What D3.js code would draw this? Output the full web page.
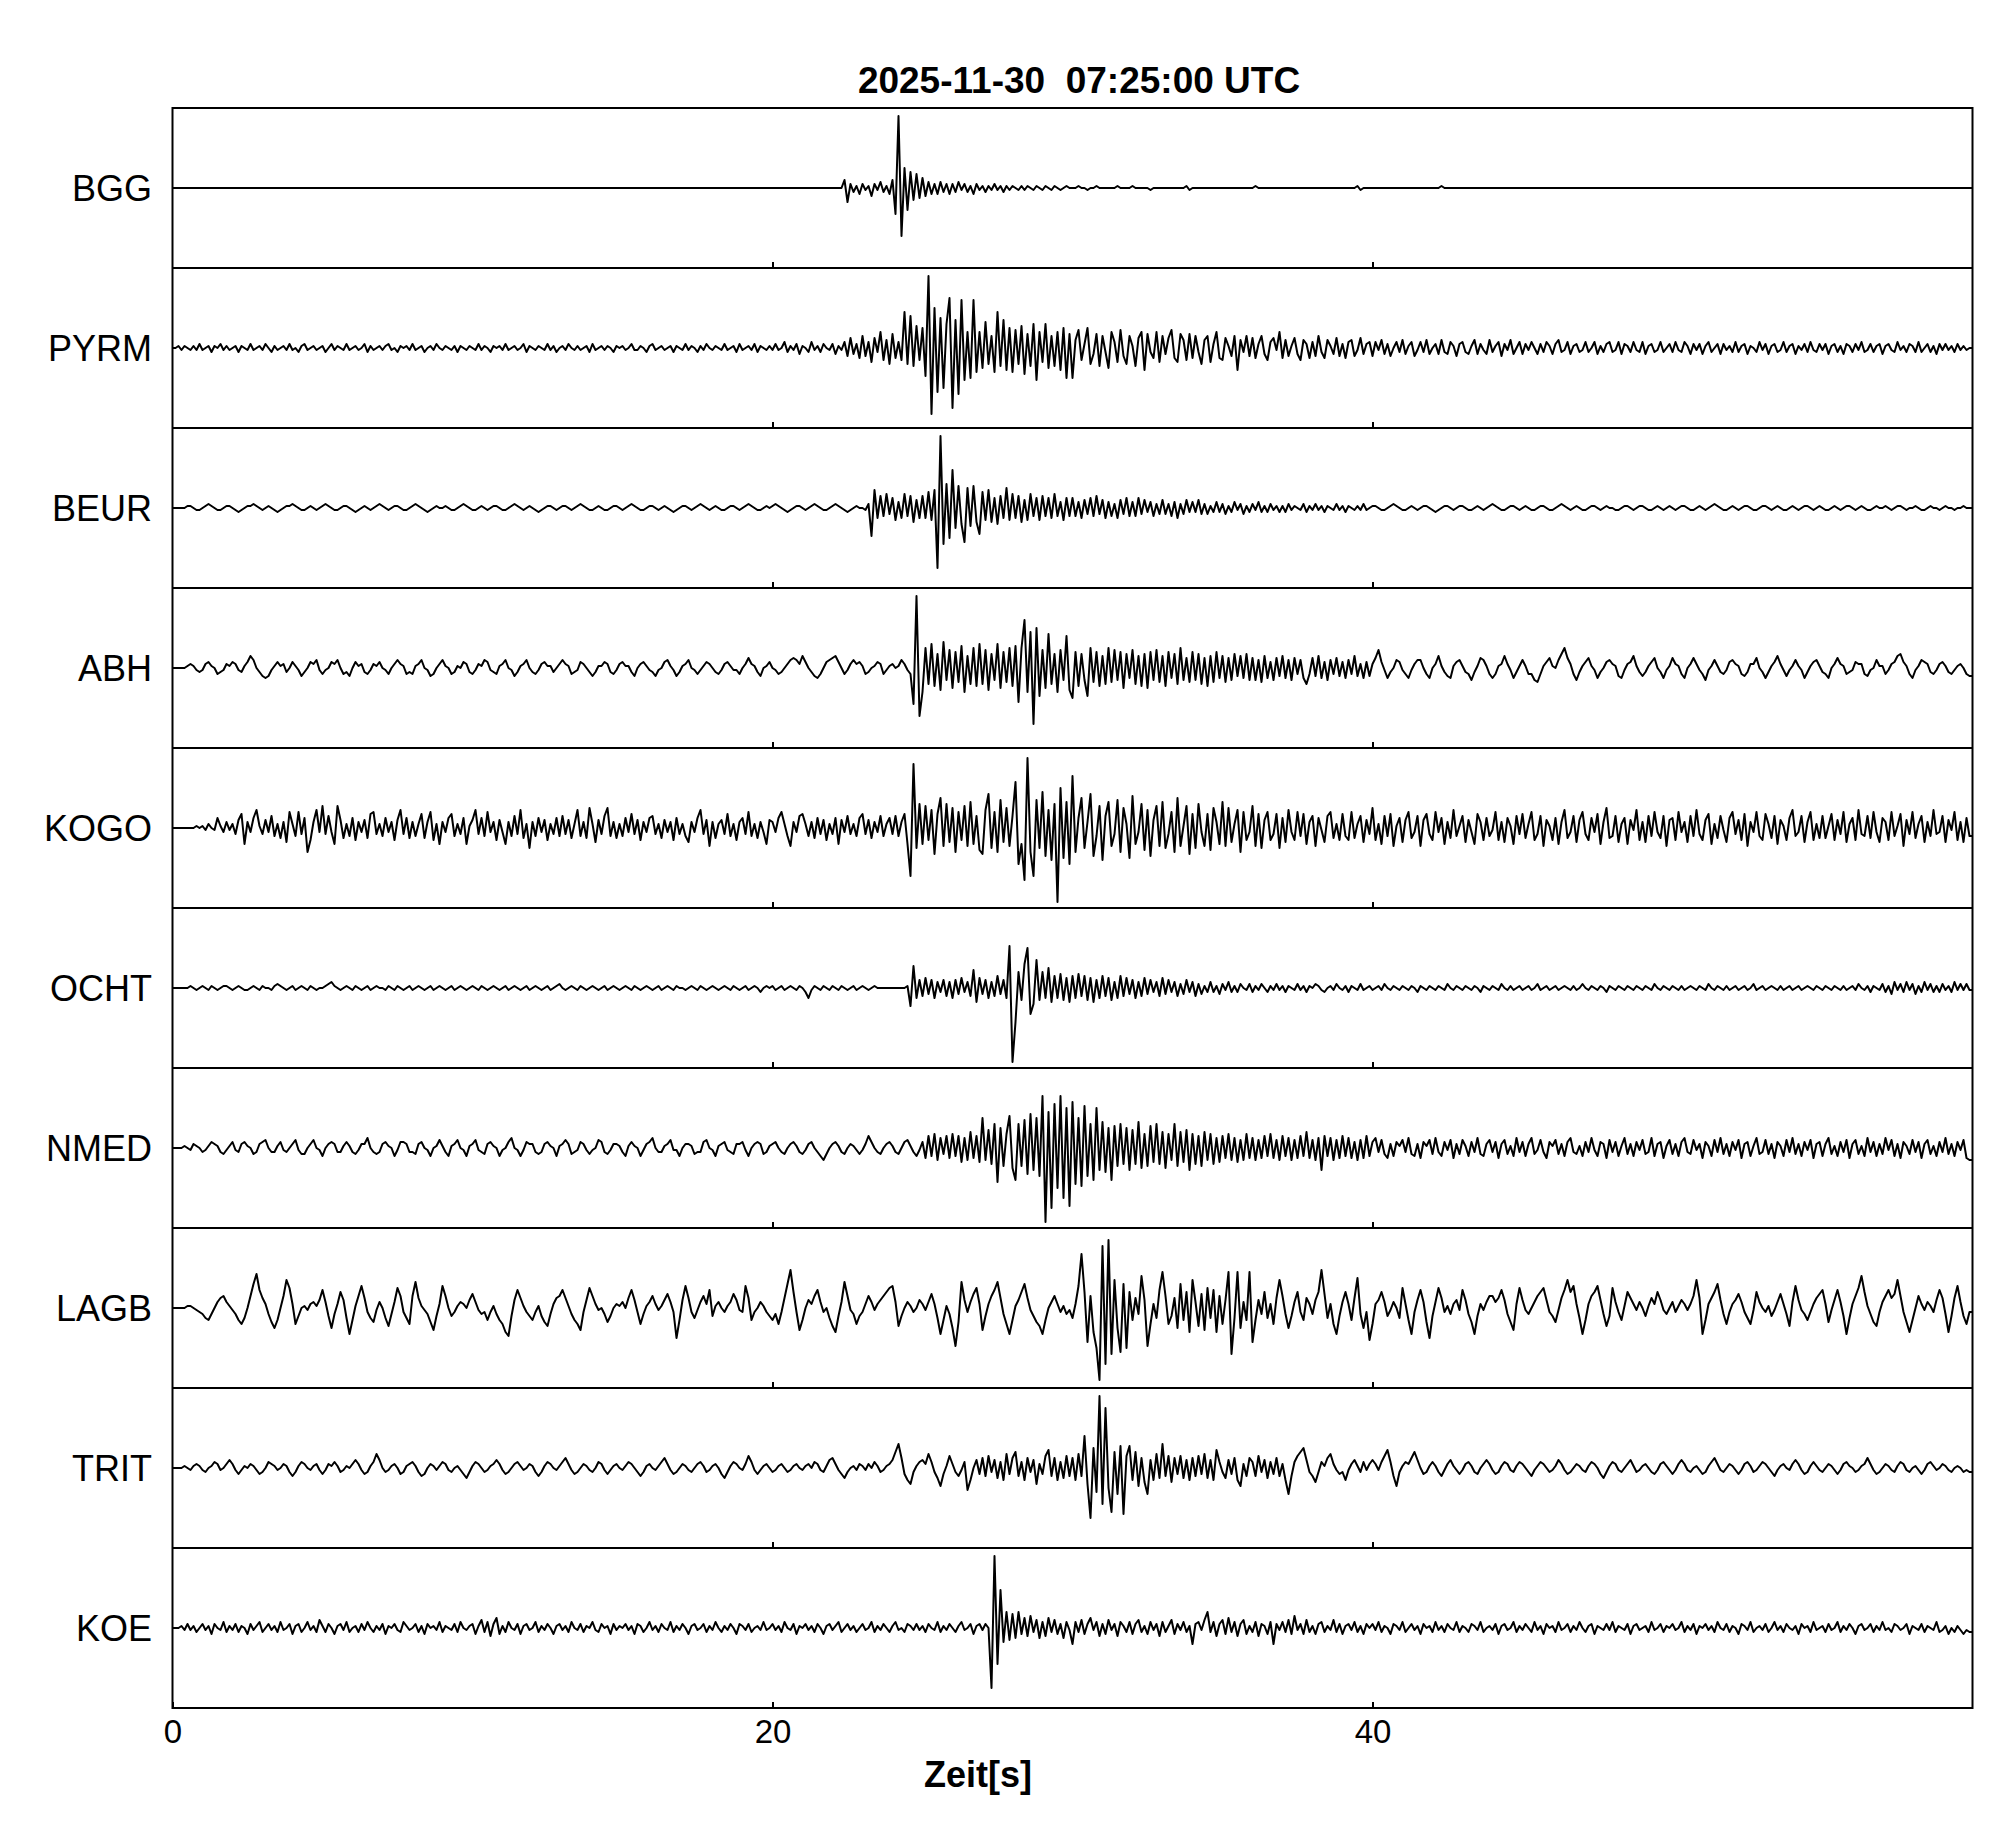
<!DOCTYPE html>
<html>
<head>
<meta charset="utf-8">
<script src="https://cdn.jsdelivr.net/npm/d3@7"></script>
<style>
body { margin: 0; background: #fff; }
text { font-family: "Liberation Sans", Arial, Helvetica, sans-serif; fill: #000; }
</style>
</head>
<body>
<svg id="chart" width="2005" height="1841"></svg>
<script>
// station names, top to bottom
const stations = ['BGG', 'PYRM', 'BEUR', 'ABH', 'KOGO', 'OCHT', 'NMED', 'LAGB', 'TRIT', 'KOE']
const xTicks = [0, 20, 40]
const title = '2025-11-30  07:25:00 UTC'
const xLabel = 'Zeit[s]'

// amplitudes, one row per 5 s block (samples every 0.1 s)
// a row holding a single 0 is a flat stretch
const BGG = [
  [0], [0], [0], [0],
  [0,0,0,0,0,0,0,0,0,0, 0,0,0,0,0,0,0,0,0,0, 0,0,0,0,4,-7,2,-2,1,-3, 2,-1,1,-4,2,-1,3,-2,1,-3, 4,-13,36,-24,10,-11,8,-6,7,-5],
  [5,-4,3,-3,2,-3,3,-2,2,-3, 2,-2,3,-1,2,-2,1,-3,2,-1, 1,-2,1,-1,2,-1,1,-2,1,-1, 1,0,-1,1,-1,1,0,-1,1,0, -1,1,0,-1,1,0,-1,0,1,0],
  [0,0,1,0,0,-1,0,0,1,0, 0,0,0,0,0,1,0,0,0,0, 1,0,0,0,0,0,-1,0,0,0, 0,0,0,0,0,0,0,0,1,-1, 0,0,0,0,0,0,0,0,0,0],
  [0,0,0,0,0,0,0,0,0,0, 0,1,0,0,0,0,0,0,0,0, 0,0,0,0,0,0,0,0,0,0, 0,0,0,0,0,0,0,0,0,0, 0,0,0,0,0,1,-1,0,0,0],
  [0,0,0,0,0,0,0,0,0,0, 0,0,0,0,0,0,0,0,0,0, 0,0,0,1,0,0,0,0,0,0, 0,0,0,0,0,0,0,0,0,0, 0,0,0,0,0,0,0,0,0,0],
  [0], [0], [0]
]

const PYRM = [
  [0,0,1,-1,1,0,-1,1,-1,2, -1,0,1,-2,1,0,2,-1,1,-1, 0,1,-2,1,0,-1,2,-1,0,1, -1,2,0,-2,1,-1,0,1,-1,2, -1,0,-2,1,2,-1,0,1,-1,0],
  [1,-2,0,2,-1,1,0,-1,2,-1, 0,1,-1,0,2,-2,1,-1,0,1, -1,1,2,-1,0,-2,1,0,1,-1, 2,-1,0,1,-2,0,1,-1,2,0, -1,1,0,-1,1,-2,1,0,-1,1],
  [0,-1,2,-1,1,0,-2,1,0,1, -1,2,-1,0,1,-1,0,2,-2,1, 0,-1,1,0,-1,2,-1,1,-2,0, 1,-1,2,0,-1,1,-1,0,1,-2, 2,-1,0,1,-1,1,0,-2,1,0],
  [1,-1,0,2,-1,-1,1,0,-2,1, 2,-1,0,1,-1,0,1,-2,1,0, -1,2,-1,1,0,-2,1,-1,2,0, -1,1,0,-1,2,-1,0,1,-2,2, -1,0,1,-1,2,-2,1,0,-1,1],
  [-1,2,-1,0,3,-2,1,-1,2,-3, 1,0,-2,3,-1,1,-2,2,0,-1, 2,-3,1,-1,3,-4,5,-3,2,-5, 6,-4,3,-7,5,-2,8,-6,4,-8, 7,-5,3,-6,18,-8,16,-9,11,-6],
  [10,-14,36,-33,20,-22,15,-20,12,25, -30,14,-23,24,-16,8,-15,24,-12,8, -10,13,-8,6,-12,18,-9,14,-11,10, -12,9,-8,11,-13,7,-9,12,-16,8, -7,12,-10,6,-9,8,-11,10,-15,7],
  [-15,4,9,-6,2,10,-8,-3,7,-9, 6,-2,-10,8,3,-7,9,-4,-8,6, 1,-9,5,8,-11,7,-2,-5,8,-7, 6,-3,5,9,-5,-7,7,4,-6,7, -5,6,-2,-8,4,6,-7,2,8,-5],
  [-6,5,1,-4,6,-11,4,-2,6,-4, 5,-5,2,6,-3,-6,3,5,-1,8, -5,4,-4,1,5,-3,-6,4,2,-5, 3,-4,6,-2,-5,4,1,-3,5,-4, 2,-5,3,4,-4,-1,5,-3,2,3],
  [-4,3,-1,4,-3,2,-4,0,3,-2, 4,-3,1,3,-4,-1,3,-2,4,-3, 0,2,-3,4,-2,-3,3,1,-4,2, 3,-2,-3,1,4,-3,2,-1,-3,4, -2,1,3,-4,2,-1,4,-3,0,3],
  [-3,2,-1,3,0,-3,2,-2,3,1, -3,2,4,-2,-1,3,-3,1,2,-2, -1,3,-2,0,3,-3,1,-2,2,3, -2,-1,3,-3,2,1,-2,3,-1,-2, 3,-3,1,2,-2,-1,3,-2,0,2],
  [-2,3,-1,-2,3,1,-3,2,-1,2, -3,1,3,-2,0,2,-3,2,-1,1, -2,3,-2,1,2,-3,1,0,-2,3, -1,2,-3,1,2,-2,-1,3,-2,1, 2,-3,1,-1,2,-2,3,-1,-2,2],
  [-1,2,-3,1,2,-2,1,-3,2,1, -2,2,-1,3,-2,-1,2,-2,1,2, -3,1,2,-1,-2,3,-1,1,-2,2, 1,-2,3,-2,0,2,-2,1,-3,2, -1,2,-1,1,-2,2,-1,1,-1,0]
]

const BEUR = [
  [0,0,0,0,0,1,1,0,-1,-1, 0,1,2,1,0,-1,-1,0,1,1, 0,-1,-2,-1,0,1,1,2,1,0, -1,0,1,0,-1,-2,-1,0,1,1, 2,1,0,-1,-1,0,1,0,-1,0],
  [1,2,1,0,-1,-1,0,1,1,0, -1,-2,-1,0,1,0,-1,0,1,2, 1,0,-1,0,1,1,0,-1,-1,0, 1,2,1,0,-1,-2,-1,0,1,0, 0,1,0,-1,-1,0,1,2,1,0],
  [-1,-1,0,1,0,-1,0,1,1,0, -1,-1,0,1,2,1,0,-1,0,1, 0,-1,-2,-1,0,1,1,0,-1,0, 1,1,0,-1,0,1,2,1,0,-1, -1,0,1,0,-1,-1,0,1,1,0],
  [-1,0,1,2,1,0,-1,-1,0,1, 1,0,-1,0,1,0,-1,-2,-1,0, 1,1,0,-1,0,1,2,1,0,-1, 0,1,0,-1,-1,0,1,1,0,-1, 0,1,2,1,0,-1,-1,0,1,0],
  [1,2,1,0,-1,-2,-1,0,1,1, 0,-1,0,1,2,1,0,-1,-1,0, 1,2,1,0,-1,-2,-1,0,1,0, 0,-1,2,-14,9,-5,6,-4,7,-3, 5,-6,3,-5,7,-4,6,-7,4,-5],
  [6,-5,8,-6,9,-30,36,-18,12,-15, 19,-10,11,-8,-17,10,-9,11,-7,-13, 8,-6,9,-7,5,-8,6,-5,10,-6, 7,-5,6,-7,4,-6,7,-4,5,-6, 6,-4,5,-5,7,-4,3,-6,5,-4],
  [5,-4,3,-5,4,-3,5,-4,6,-3, 4,-5,3,-4,2,-5,4,-3,5,-4, 3,-4,5,-3,4,-2,3,-4,2,-3, 4,-3,2,-4,3,-5,2,-3,4,-2, 3,-2,4,-3,2,-3,1,-2,3,-2],
  [2,-3,1,-2,3,-1,2,-3,1,-2, 2,-1,3,-2,1,-2,2,-1,1,-2, 1,-2,2,-1,1,0,-1,2,-2,1, -1,2,-1,1,-2,1,0,-1,2,-1, 1,-2,1,0,-1,1,-1,2,-1,0],
  [1,1,0,-1,-1,0,1,2,1,0, -1,-1,0,1,0,-1,0,1,1,0, -1,-2,-1,0,1,1,0,-1,0,1, 1,0,-1,-1,0,1,0,-1,0,1, 2,1,0,-1,-1,0,1,1,0,-1],
  [0,1,0,-1,-1,0,1,1,0,-1, -1,0,1,2,1,0,-1,0,1,0, -1,-1,0,1,1,0,-1,0,1,0, 0,-1,-1,0,1,1,0,-1,0,1, 1,0,-1,-1,0,1,0,-1,0,1],
  [0,-1,0,1,1,0,-1,-1,0,1, 0,-1,0,1,2,1,0,-1,-1,0, 1,0,-1,0,1,1,0,-1,-1,0, 1,1,0,-1,0,1,0,-1,-1,0, 1,0,-1,0,1,1,0,-1,0,1],
  [0,-1,-1,0,1,0,-1,0,1,1, 0,-1,0,1,0,-1,-1,0,1,0, 0,1,0,-1,0,1,1,0,-1,0, 0,1,0,-1,-1,0,1,0,0,-1, 0,1,0,0,-1,0,0,1,0,0]
]

const ABH = [
  [0,0,0,0,0,1,2,1,-1,-2, -1,2,3,1,0,-3,-2,-1,2,1, 3,2,-1,-2,1,3,6,4,0,-2, -4,-5,-4,-1,1,3,1,2,-2,0, 3,1,-1,-4,-2,0,3,2,4,-1],
  [-3,-1,0,3,2,4,0,-3,-2,-4, 0,3,1,2,-2,-3,-1,2,1,3, 0,-1,-3,0,2,4,2,1,-3,-2, -3,1,2,4,0,-1,-4,-3,0,2, 4,1,0,-3,-2,1,0,3,2,-2],
  [-3,-1,2,1,4,3,-1,-2,-3,1, 2,4,0,-1,-4,-2,1,2,4,0, -2,-3,-1,2,3,1,1,-2,0,2, 4,2,1,-3,-2,-1,3,2,0,-2, -4,-2,1,1,3,2,-2,-3,-1,2],
  [3,1,1,-2,-4,0,2,3,1,-1, -2,-4,-1,0,3,4,1,-1,-4,-2, 1,2,4,0,-1,-3,-1,1,3,2, 0,-2,-3,-1,2,3,1,-1,-1,-3, 0,2,5,2,1,-2,-4,0,1,3],
  [0,-1,-3,-2,0,2,4,5,4,2, 6,3,0,-2,-4,-5,-3,0,3,4, 5,6,3,0,-3,-1,2,4,2,3, 1,-3,-2,0,1,3,2,-3,-1,1, 2,0,1,4,2,-1,-3,-18,36,-24],
  [-12,10,-8,12,-9,7,-11,13,-6,9, -10,8,-7,11,-12,6,-8,10,-9,12, -8,9,-11,7,-6,12,-10,8,-7,10, -9,11,-17,10,24,-12,18,-28,20,-14, 9,-10,17,-8,7,-12,9,-6,16,-11],
  [-15,8,-9,7,-6,-14,10,-7,8,-9, 6,-8,10,-7,9,-6,8,-10,7,-5, 9,-8,6,-9,7,-10,8,-6,9,-7, 6,-9,8,-5,7,-8,10,-6,5,-7, 8,-6,7,-8,5,-9,6,-7,8,-5],
  [6,-7,5,-6,7,-4,6,-5,7,-6, 5,-6,4,-7,6,-5,3,-6,5,-4, 6,-5,4,-6,5,-3,4,-5,-8,-3, 5,-4,6,-5,3,-6,4,-3,5,-4, 3,-5,4,-3,6,-4,2,-5,3,-4],
  [2,5,9,3,-1,-5,-2,0,4,3, -1,-3,-5,-1,2,4,4,0,-3,-5, 0,2,6,1,-2,-4,-5,1,3,4, 1,-2,-3,-6,-2,1,5,4,1,-3, -5,-3,1,2,6,2,-1,-5,-2,1],
  [4,1,-3,-3,-6,-7,-3,1,3,5, 1,0,4,7,10,5,2,-3,-6,-2, 1,3,5,1,-1,-5,-2,0,3,4, 2,1,-4,-5,-1,2,3,6,1,-2, -4,-2,1,3,5,0,-2,-5,-1,1],
  [5,2,1,-3,-5,0,2,5,2,-1, -3,-6,-1,1,4,1,-2,-3,-1,3, 4,2,1,-3,-4,-2,2,2,5,0, -2,-5,-2,1,3,6,2,-1,-4,-1, 1,4,1,-1,-5,-2,1,3,4,1],
  [-2,-3,-5,0,2,5,2,1,-3,-2, -1,3,2,2,-3,-4,-1,0,4,1, 1,-3,-1,2,3,6,7,3,1,-3, -5,-1,1,4,3,2,-2,-3,-1,2, 3,1,-2,-3,-1,1,2,0,-3,-4]
]

const KOGO = [
  [0,0,0,0,0,0,0,0,1,0, 1,-1,2,0,-1,5,1,-2,3,-1, 2,-3,4,7,-8,3,-2,5,9,1, -3,4,-2,6,-4,2,-5,3,-7,8, 2,-4,8,-3,5,-12,-6,3,9,-2],
  [11,-3,6,-2,-8,11,4,-5,2,-4, 5,-6,3,-2,4,-5,7,8,-3,2, -4,5,-2,3,-6,4,9,-3,5,-5, 3,-4,2,7,-5,3,8,-6,2,-8, 3,-2,5,7,-4,2,-3,5,-8,1],
  [4,9,-3,5,-4,8,-2,3,-6,4, -2,-8,3,-4,6,-3,9,-5,2,-10, 3,-4,5,-2,4,-6,2,-3,5,-4, 6,-3,4,-5,2,9,-4,3,-5,10, 2,-7,4,-3,6,10,-4,3,-5,2],
  [-4,5,-2,7,-3,4,-6,3,-2,5, 6,-3,2,-5,4,-2,3,-6,5,-3, 2,-4,-7,3,-2,5,9,-3,4,-9, 3,-5,2,4,-3,7,-4,2,-6,3, 5,-3,8,-4,2,-5,3,-2,-8,4],
  [3,-2,5,8,2,-4,-9,3,-2,6, 7,2,-4,3,-5,5,-3,4,-6,2, -3,5,-8,4,-2,6,-3,2,-4,5, 7,-3,4,-5,3,-2,6,-4,2,5, -3,6,-4,3,7,-8,-24,32,-10,12],
  [-8,11,-6,9,-13,7,15,-9,12,-7, 10,-12,8,-6,11,-9,13,-8,6,-11, -13,9,17,-10,8,-12,14,-7,10,-9, 6,23,-18,-8,-26,35,-12,-24,14,-10, 18,-14,9,-16,12,-37,20,-15,13,-18],
  [26,-12,5,15,-10,3,17,-14,-4,11, -16,6,13,-9,-3,14,-12,10,2,-15, 16,-8,-2,12,-11,9,-14,4,11,-9, 13,-10,-3,8,-12,15,-9,1,11,-13, 7,-10,12,-2,-9,7,-11,10,3,-8],
  [13,-9,10,-7,2,9,-12,8,-6,-2, 11,-9,7,-10,4,8,-6,-3,7,-10, 5,-7,9,-2,-6,8,-4,7,-8,3, 6,-9,5,-1,-7,6,8,-5,2,-6, 7,-4,-6,8,-5,2,6,-7,4,-3],
  [10,-6,2,-8,6,-4,7,-9,1,5, -7,4,8,-5,-2,6,-9,4,7,-3, -6,8,-2,5,-8,3,-5,9,-4,1, 6,-7,4,-2,-8,7,3,-6,5,-4, -1,8,-6,3,-7,5,1,-8,6,-3],
  [7,-5,2,8,-6,-3,6,-9,4,1, -6,5,-8,3,9,-5,-2,6,-7,4, 8,-3,-6,5,-2,7,-8,3,10,-5, -4,6,-7,2,5,-8,4,-1,9,-6, 3,-7,6,-4,8,-2,-5,6,-9,4],
  [5,-6,8,-2,3,-7,6,-4,9,-3, -6,4,7,-8,2,-5,6,-1,-7,5, 8,-3,4,-6,7,-9,3,-2,8,-4, -6,7,2,-5,6,-8,4,1,-6,5, 9,-4,-2,6,-7,3,8,-6,2,-5],
  [6,-5,1,7,-6,4,-3,8,-7,2, 5,-6,9,-3,-4,6,-5,8,-2,-7, 5,3,-6,8,-4,1,7,-9,4,-3, 8,-5,2,6,-7,3,-4,9,-3,-2, 6,-7,4,-1,8,-6,3,-7,5,-4]
]

const OCHT = [
  [0,0,0,0,0,0,1,0,-1,0, 1,0,-1,1,0,-1,0,1,1,0, -1,0,1,0,-1,-1,0,1,0,-1, 1,0,0,-1,1,2,1,0,-1,0, 1,-1,0,1,0,-1,1,0,-1,0],
  [0,1,2,3,1,0,-1,0,1,0, -1,1,0,-1,0,1,-1,0,1,0, 0,-1,1,0,-1,1,0,-1,0,1, -1,0,1,0,-1,0,1,-1,0,1, 0,-1,0,1,-1,0,1,0,-1,0],
  [1,0,-1,1,0,-1,0,1,0,-1, 0,1,-1,0,1,0,-1,0,1,-1, 0,1,0,-1,0,1,-1,0,1,2, 0,-1,0,1,0,-1,1,0,-1,0, 1,0,-1,0,1,-1,0,1,0,-1],
  [0,1,0,-1,1,0,-1,0,1,0, -1,0,1,-1,0,1,0,-1,1,0, 0,-1,0,1,0,-1,1,0,-1,0, 1,0,-1,0,1,0,-1,1,0,-1, 0,1,-1,0,1,0,-2,0,1,0],
  [1,-1,0,1,-1,0,1,0,-1,1, 0,-2,-5,-1,1,0,-1,1,0,-1, 1,0,-1,1,0,-1,0,1,-1,0, 1,0,-1,0,1,0,0,0,0,0, 0,0,0,0,0,1,-9,11,-5,4],
  [-4,5,-3,4,-5,3,-2,4,-4,3, -5,4,-3,5,-2,3,-4,9,-7,5, -3,4,-5,3,-4,6,-3,4,-5,21, -37,-17,8,-6,12,20,-13,-8,14,-6, 8,-5,10,-7,6,-5,7,-6,5,-7],
  [6,-5,7,-4,6,-6,5,-7,4,-5, 6,-4,5,-6,3,-5,6,-4,5,-3, 4,-5,3,-4,5,-3,4,-2,3,-4, 5,-3,4,-2,3,-4,2,-3,4,-2, 3,-4,2,-3,1,-2,3,-2,1,-3],
  [2,-1,3,-2,1,-2,2,0,-1,2, -2,1,-1,2,0,-2,1,-1,2,-1, 1,-2,1,0,-1,2,-1,1,-2,1, 0,2,1,-1,-2,0,1,-1,2,0, -1,1,-2,1,0,-1,2,-1,0,1],
  [-1,0,1,-1,2,0,-1,1,0,-1, 1,0,-1,1,0,-2,1,0,-1,1, 0,-1,1,0,-1,2,0,-1,1,0, -1,1,0,-1,1,0,-2,1,0,-1, 1,0,-1,2,0,-1,1,-1,0,1],
  [-1,0,1,-1,0,2,-1,0,1,-1, 0,1,-1,0,1,0,-1,1,-1,0, 2,0,-1,1,0,-1,1,0,-2,1, 0,-1,1,0,-1,1,0,-1,1,0, -1,1,0,-1,2,0,-1,1,0,-1],
  [1,0,-1,1,-1,0,1,0,-1,1, 0,-1,2,0,-1,1,0,-1,1,-1, 0,1,-1,0,1,-1,0,2,-1,0, 1,-1,0,1,0,-1,1,-1,0,1, -1,0,1,-1,0,1,0,-1,1,0],
  [-1,1,0,-1,1,0,-1,1,-1,0, 1,-1,2,0,-1,1,-2,1,0,-1, 2,-2,1,-3,3,-1,2,-2,3,-1, 2,-3,1,-2,3,-1,2,-2,1,-2, 2,-1,1,-2,3,-1,2,-1,2,-1]
]

const NMED = [
  [0,0,0,0,1,0,-1,2,1,0, -2,-1,1,3,2,1,-2,-3,-1,1, 3,-1,-2,2,3,1,0,-3,-2,2, 3,4,0,-2,-2,1,3,-1,-2,0, 2,4,-1,-3,-3,0,2,4,0,-1],
  [-4,0,2,3,2,-2,-2,1,3,1, -2,-3,-1,2,2,5,0,-2,-3,-2, 2,3,1,0,-4,-1,3,3,2,-2, -2,-3,2,3,0,-1,-4,0,1,4, 1,-2,-4,1,2,4,0,-1,-4,1],
  [2,4,-1,-2,-3,2,3,1,0,-4, -1,0,3,5,0,-1,-4,-1,3,2, 2,-2,-3,-2,2,3,1,0,-4,1, 2,4,2,-3,-2,-1,3,2,-1,-3, -1,0,4,3,-2,-3,-1,2,2,1],
  [-2,-4,1,3,1,0,-4,-1,2,3, 5,0,-2,-2,1,2,4,-1,-1,-4, 0,2,2,1,-3,-2,-2,3,4,0, -1,-4,1,2,3,-1,-2,-3,2,2, 3,-1,-4,0,2,3,2,-3,-2,1],
  [2,3,0,-2,-3,0,2,3,1,-2, -3,-1,2,3,0,-2,-4,-6,-3,0, 2,3,1,-2,-3,0,2,1,-1,-3, -1,2,6,3,0,-2,-3,0,2,3, 1,-2,-3,0,3,4,1,-2,-4,-1],
  [3,-5,6,-4,7,-6,5,-3,6,-5, 7,-4,6,-7,5,-6,8,-5,6,-7, 15,-6,9,-8,12,-17,10,-9,7,16, -10,-16,12,-9,14,-13,17,-11,15,-14, 26,-37,18,-30,22,-20,26,-25,20,-29],
  [23,-18,15,-19,21,-14,12,-16,20,-11, 13,-12,10,-16,11,-9,12,-8,10,-11, 9,-8,13,-10,7,-9,11,-7,12,-8, 8,-10,7,-6,12,-9,8,-7,9,-11, 7,-8,6,-9,8,-6,7,-8,5,-7],
  [6,-5,7,-6,5,-7,4,-6,7,-5, 5,-6,4,-5,6,-4,7,-5,4,-6, 6,-4,5,-6,4,-5,6,-4,8,-5, 4,-6,5,-11,6,-4,5,-6,4,-5, 6,-4,5,-5,3,-6,4,-5,6,-4],
  [3,5,-2,4,-3,-5,2,-4,3,1, 4,-2,5,-3,-4,2,-5,3,1,4, -3,5,-2,-4,3,-1,4,-5,2,-3, 4,1,-4,3,-2,5,-3,-4,2,4, -2,3,-5,2,4,-3,1,-4,5,-2],
  [3,-4,2,5,-3,-1,4,-2,-5,3, 1,4,-3,2,-4,3,5,-2,-3,1, -4,3,-2,5,-1,-4,3,2,-5,4, -2,3,-4,1,5,-3,2,-4,3,-1, 4,-3,-2,5,-4,2,3,-5,1,4],
  [-3,2,-4,3,5,-2,-3,4,-1,2, -5,3,1,-4,4,-2,5,-3,2,-4, 3,-1,4,-5,2,3,-4,1,5,-3, -2,4,-3,2,-5,3,1,-4,4,-2, 5,-3,2,-4,3,-1,4,-5,2,3],
  [-4,2,5,-3,1,-4,3,-2,4,-5, 2,4,-3,1,-4,5,-2,3,-4,2, -3,5,-1,4,-4,2,-5,3,1,-3, 4,-2,3,-5,2,4,-3,1,-4,3, -2,5,-3,2,-4,3,-1,4,-5,-6]
]

const LAGB = [
  [0,0,0,0,0,1,1,0,-1,-2, -3,-5,-6,-3,0,3,5,6,3,1, -1,-3,-6,-8,-5,0,6,12,17,9, 5,2,-3,-7,-10,-6,0,6,14,10, 2,-8,-4,0,1,-1,2,3,1,4],
  [9,3,-4,-10,-3,2,8,4,-5,-13, -6,1,6,11,5,-2,-5,-7,-1,3, 0,-5,-9,-3,3,10,6,-2,-5,-8, 6,13,5,1,-1,-3,-7,-11,-4,2, 11,6,0,-4,-2,1,3,2,0,4],
  [7,3,-1,-3,-2,-6,-2,1,-3,-6, -8,-12,-14,-4,4,9,5,1,-2,-4, -6,-2,1,-4,-7,-9,-3,2,5,6, 9,5,1,-3,-6,-8,-11,-2,4,10, 6,2,-1,0,-3,-7,-4,0,2,1],
  [3,0,5,9,4,-2,-8,-3,1,3, 6,2,-1,1,4,7,3,-2,-15,-6, 4,11,5,-2,-5,-1,3,6,2,9, -4,1,3,0,-2,1,3,7,4,-1, -2,11,5,-6,-2,0,3,1,-2,-4],
  [-6,-3,-8,-2,5,12,19,8,-2,-11, -6,0,4,2,6,9,3,-2,0,-5, -9,-12,-4,3,13,6,-1,-3,-8,-4, -2,2,6,3,-1,2,4,6,8,10, 11,3,-9,-4,0,3,1,-2,0,4],
  [2,-1,3,7,2,-5,-13,-6,1,-3, -10,-19,-7,13,4,-2,3,7,10,2, -11,-4,2,6,9,13,5,-3,-8,-13, -6,1,4,8,12,5,-1,-4,-7,-9, -13,-6,0,3,6,2,-2,1,-3,-1],
  [-5,2,11,27,8,-17,6,-12,-20,-36, 31,-28,34,-23,14,-10,-22,12,-20,8, -6,5,-3,16,4,-19,-8,2,-5,9, 18,6,-8,-4,5,-10,12,-6,8,-12, 14,3,-9,7,-11,10,-5,9,-12,6],
  [-8,4,18,-23,-5,18,-10,3,-6,18, -17,-6,4,-3,8,-5,2,-8,5,14, 6,-3,-10,-4,3,8,-2,-6,5,2, -3,4,8,19,7,-5,2,-8,-13,-4, 3,8,2,-6,5,15,-3,-10,-2,-16],
  [-8,2,4,8,3,-4,-1,3,0,-5, 10,2,-6,-13,-2,4,9,3,-7,-15, -4,3,10,5,-2,1,-3,2,4,-1, 9,4,-3,-7,-13,-4,2,-1,3,6, 6,3,5,9,4,-3,-7,-11,2,10],
  [4,-1,-3,0,3,6,8,10,4,-2, -4,-7,-1,5,9,14,8,11,2,-5, -13,-6,2,6,8,11,4,-3,-9,-4, 10,3,-2,-6,1,8,5,2,-1,3, 0,-4,1,5,2,8,4,-1,-3,0],
  [3,-2,1,4,2,-1,2,6,14,5, -13,-6,2,5,8,12,4,-3,-8,-2, 2,4,7,3,-2,-5,-8,-1,8,3, 0,-2,1,-4,-1,3,7,2,-3,-9, 3,11,4,-1,-3,-6,-2,2,5,7],
  [9,2,-7,-1,4,9,3,-4,-13,-5, 2,6,10,16,8,1,-3,-7,-9,-2, 3,6,9,5,7,14,6,-2,-7,-12, -6,0,6,2,-1,3,1,-2,4,9, 5,-3,-12,-4,5,11,3,-4,-8,-2]
]

const TRIT = [
  [0,0,0,0,1,0,-1,1,2,1, -1,-2,0,1,3,2,-1,0,2,4, 2,-1,-3,-1,1,0,2,1,-1,-3, -2,0,3,2,1,-1,0,2,1,-2, -4,-2,1,3,2,0,-1,1,2,-1],
  [-3,-1,2,1,3,1,-2,-1,1,0, 2,4,2,-1,-3,-2,1,3,7,4, 0,-2,-1,1,2,0,-3,-2,1,2, 3,1,-2,-4,-3,0,2,1,-1,1, 3,2,-1,-2,0,1,-1,-3,-5,-2],
  [1,3,2,0,-2,-1,1,2,4,2, -1,-3,-2,0,2,3,1,-1,0,2, 1,-2,-4,-2,1,3,2,0,-1,1, 3,5,2,-1,-3,-2,0,2,1,-1, -2,0,3,2,-1,-3,-1,1,2,0],
  [-1,1,3,2,0,-2,-4,-2,1,2, 0,-1,1,3,5,2,-1,-3,-2,0, 2,1,-1,-2,0,2,3,1,-2,-1, 1,2,0,-3,-5,-2,1,3,2,0, -1,2,6,3,-1,-3,-1,1,2,0],
  [-2,-1,1,2,0,-2,-1,1,2,0, -1,1,2,0,3,2,-1,-2,1,4, 5,2,-1,-3,-5,-2,0,1,-1,2, 1,-1,2,0,3,1,-2,-1,1,2, 4,8,12,5,-3,-6,-8,-2,1,3],
  [4,2,7,3,-2,-5,-9,-3,1,6, 2,-2,-4,-1,3,-11,-6,0,4,-3, 5,-4,6,-2,4,-5,3,-6,7,-3, 5,8,-4,3,-6,5,-2,4,-8,2, -3,6,9,-4,5,-6,3,-5,6,-4],
  [5,-6,7,-4,16,-8,-25,10,-12,36, -18,30,-10,-22,8,-13,11,-23,6,11, -6,8,-9,5,-7,-13,4,-6,7,-5, 12,-4,6,-7,5,-3,6,-5,4,-6, 5,-4,6,-3,7,-5,4,-6,9,3],
  [-2,-5,4,-3,5,-6,-9,2,-4,5, 3,-4,6,-2,4,-5,3,-3,5,-4, 2,-6,-13,-4,3,6,8,10,4,-2, -4,-7,-2,3,1,5,7,2,-1,-3, -2,-6,-1,2,4,1,-2,3,-1,2],
  [4,2,-1,3,6,9,3,-4,-9,-2, 1,3,2,5,8,4,0,-3,-2,1, 3,1,-2,-4,-1,2,4,1,-1,-3, -1,2,3,1,-2,-3,0,2,4,2, -1,-3,-2,1,3,2,-1,-2,1,3],
  [2,0,-2,-4,-1,1,3,2,0,-2, -1,1,4,2,-1,-3,-2,0,2,1, -1,-2,1,3,2,0,-3,-5,-2,1, 3,2,-1,-2,0,2,4,1,-2,-1, 1,2,0,-2,-3,-1,2,3,1,-1],
  [-3,-1,2,4,2,-1,-2,0,1,-1, -3,-2,1,3,5,2,-1,-2,0,2, 1,-1,-3,-1,2,3,1,-2,-1,1, 3,2,0,-2,-4,-1,1,2,0,-1, 2,4,2,-1,-3,-2,1,3,1,-1],
  [-2,0,2,1,-1,-3,-1,2,3,1, 0,-2,-1,1,2,5,2,-1,-3,-2, 0,2,1,-1,-2,1,3,2,-1,-2, 0,1,-1,-3,-1,2,3,1,-1,0, 2,1,-1,-2,0,1,0,-2,-1,-2]
]

const KOE = [
  [0,0,0,1,-1,2,-1,1,-2,0, 2,-1,1,-3,2,0,-1,3,-2,1, -1,2,-2,1,0,-3,2,-1,1,3, -2,0,2,-1,1,-2,3,-1,0,2, -3,1,2,-2,0,3,-1,1,-2,4],
  [1,-2,2,0,-3,1,2,-1,3,-2, 0,1,-2,2,-1,3,0,-2,1,-1, 2,-3,1,0,2,-1,-2,3,1,-1, 0,2,-2,1,-3,2,0,1,-1,3, -2,1,0,-1,2,-2,3,0,-1,1],
  [2,-3,1,4,-2,3,-4,2,5,-3, 1,-2,3,0,-1,2,-3,1,2,-1, 0,3,-2,1,-1,2,0,-3,1,2, -1,1,-2,3,0,-1,2,-2,1,0, 3,-1,-2,2,0,1,-3,2,-1,1],
  [0,2,-1,1,-3,2,1,-2,0,3, -1,1,-2,2,0,-1,3,-2,1,-1, 2,0,-3,1,2,-1,0,2,-2,1, -1,3,0,-2,1,-1,2,0,-3,2, 1,-1,2,-2,0,1,-1,3,-1,0],
  [2,-1,1,-2,3,0,-1,2,-3,1, 0,2,-1,1,-2,2,0,-3,1,2, -1,1,3,-2,0,2,-1,1,-2,0, 2,-1,0,3,-2,1,-1,2,0,-2, 1,3,-1,0,-2,2,1,-1,2,-1],
  [1,-2,2,0,-1,3,-2,1,-1,2, 0,-2,1,3,-1,0,2,-3,1,2, -1,2,0,-30,36,-18,19,-7,8,-6, 7,-5,8,-3,5,-4,6,-2,4,-5, 3,-4,5,-2,4,-3,2,-5,3,-1],
  [-8,3,-2,4,-3,2,5,-1,3,-4, 2,-3,4,-1,2,-4,3,1,-2,3, -3,2,4,-2,1,-3,3,-1,2,-4, 3,-2,1,4,-3,2,-1,3,-2,1, -8,2,3,-1,4,8,-2,3,-4,2],
  [4,-3,5,-2,3,-4,2,4,-3,1, -2,3,-4,2,1,-3,3,-8,2,-1, 3,-2,4,-3,6,-1,2,-3,4,-2, 1,-3,2,3,-2,1,-1,4,-2,2, -3,1,2,-1,3,-2,1,-3,2,0],
  [2,-1,3,-2,1,0,-3,2,1,-1, 3,-2,0,2,-1,1,-3,2,0,1, -2,3,-1,1,-2,2,0,-1,3,-2, 1,0,-2,2,1,-1,3,-2,0,1, -1,2,-3,1,2,-1,0,3,-2,1],
  [-1,2,0,-2,3,-1,1,-3,2,0, 1,-2,3,-1,0,2,-2,1,-1,3, 0,-2,1,2,-3,1,0,-1,2,-1, 3,-2,1,0,-1,2,-3,1,2,-1, 0,1,-2,3,-1,0,2,-2,1,0],
  [2,-1,0,3,-2,1,-1,2,-3,1, 0,2,-1,1,-2,3,0,-1,2,-2, 1,0,-3,2,1,-1,3,-2,0,1, -1,2,-2,0,3,-1,1,-2,2,0, -1,1,-3,2,0,1,-2,3,-1,0],
  [1,-2,2,-1,0,3,-2,1,-1,2, 0,-3,1,2,-1,0,2,-2,1,-1, 3,-1,0,-2,2,1,-1,0,2,-3, 1,0,-1,2,-2,1,0,-1,3,-2, -1,1,-3,0,-2,1,-1,-3,-1,-2]
]

const traces = [BGG, PYRM, BEUR, ABH, KOGO, OCHT, NMED, LAGB, TRIT, KOE]

const blockSeconds = 5
const margin = { left: 172.5, right: 32.5, top: 108 }
const rowH = 160
const plotW = 2005 - margin.left - margin.right
const plotH = rowH * stations.length

const svg = d3.select('#chart')

const x = d3.scaleLinear()
    .domain([0, 60])
    .range([margin.left, margin.left + plotW])

const line = d3.line()
    .x(d => x(d[0]))

svg.append('text')
    .attr('x', 1079)
    .attr('y', 93)
    .attr('text-anchor', 'middle')
    .style('font-size', '37px')
    .style('font-weight', 'bold')
    .style('white-space', 'pre')
    .text(title)

const defs = svg.append('defs')

traces.forEach((rows, i) => {
    const y0 = margin.top + i * rowH
    const y = d3.scaleLinear()
        .domain([-40, 40])
        .range([y0 + rowH, y0])

    defs.append('clipPath')
        .attr('id', 'clip' + i)
        .append('rect')
        .attr('x', margin.left)
        .attr('y', y0)
        .attr('width', plotW)
        .attr('height', rowH)

    const pts = rows.flatMap((row, r) =>
        row.map((v, j) => [r * blockSeconds + j * blockSeconds / row.length, v]))
    pts.push([60, pts[pts.length - 1][1]])

    svg.append('path')
        .datum(pts)
        .attr('clip-path', `url(#clip${i})`)
        .attr('fill', 'none')
        .attr('stroke', '#000')
        .attr('stroke-width', 2)
        .attr('stroke-linejoin', 'round')
        .attr('d', line.y(d => y(d[1])))

    svg.append('text')
        .attr('x', 152)
        .attr('y', y(0) + 13)
        .attr('text-anchor', 'end')
        .style('font-size', '36px')
        .text(stations[i])

    const last = i === stations.length - 1
    const axis = d3.axisBottom(x)
        .tickValues(last ? xTicks : xTicks.slice(1))
        .tickSize(-6)
        .tickPadding(12)
        .tickFormat(last ? d3.format('d') : '')

    const g = svg.append('g')
        .attr('transform', `translate(0,${y0 + rowH})`)
        .call(axis)
    g.select('.domain').remove()
    g.selectAll('line').attr('stroke', '#000').attr('stroke-width', 2)
    g.selectAll('text')
        .style('font-family', '"Liberation Sans", Arial, sans-serif')
        .style('font-size', '33px')
        .attr('fill', '#000')

    if (i > 0) {
        svg.append('line')
            .attr('x1', margin.left).attr('x2', margin.left + plotW)
            .attr('y1', y0).attr('y2', y0)
            .attr('stroke', '#000')
            .attr('stroke-width', 2)
    }
})

svg.append('rect')
    .attr('x', margin.left)
    .attr('y', margin.top)
    .attr('width', plotW)
    .attr('height', plotH)
    .attr('fill', 'none')
    .attr('stroke', '#000')
    .attr('stroke-width', 2)

svg.append('text')
    .attr('x', 978)
    .attr('y', 1787)
    .attr('text-anchor', 'middle')
    .style('font-size', '36px')
    .style('font-weight', 'bold')
    .text(xLabel)
</script>
</body>
</html>
